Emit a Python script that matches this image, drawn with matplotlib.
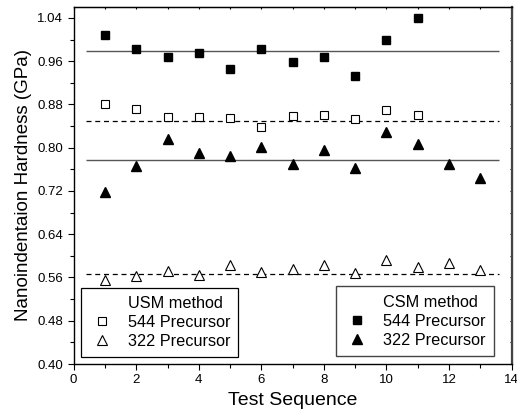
import numpy as np
import matplotlib.pyplot as plt
from matplotlib.lines import Line2D

plt.rcParams['font.family'] = ['Liberation Sans', 'DejaVu Sans']

# Dados
seq_544 = np.arange(1, 12)
seq_322 = np.arange(1, 14)

csm_544 = [1.009, 0.983, 0.967, 0.975, 0.946, 0.983, 0.959, 0.968, 0.933, 1.000, 1.040]
usm_544 = [0.881, 0.871, 0.856, 0.856, 0.855, 0.838, 0.859, 0.861, 0.853, 0.870, 0.861]
csm_322 = [0.719, 0.767, 0.817, 0.790, 0.785, 0.801, 0.769, 0.795, 0.763, 0.829, 0.806, 0.770, 0.744]
usm_322 = [0.555, 0.562, 0.572, 0.564, 0.584, 0.571, 0.576, 0.584, 0.568, 0.592, 0.579, 0.587, 0.574]

# Médias (linhas horizontais)
media_csm = [0.978, 0.778]
media_usm = [0.849, 0.567]

fig = plt.figure(figsize=(5.17, 4.2), dpi=100)
ax = fig.add_axes([0.1425, 0.1333, 0.847, 0.851])

ax.hlines(media_csm, 0.4, 13.6, colors='#555555', linewidth=1.0)
ax.hlines(media_usm, 0.4, 13.6, colors='black', linewidth=0.9, linestyles=(0, (4, 3)))

ax.plot(seq_544, csm_544, 's', color='black', markersize=5.5)
ax.plot(seq_544, usm_544, 's', mfc='white', mec='black', mew=0.8, markersize=5.5)
ax.plot(seq_322, csm_322, '^', color='black', markersize=7)
ax.plot(seq_322, usm_322, '^', mfc='white', mec='black', mew=0.8, markersize=7)

ax.set_xlim(0, 14)
ax.set_ylim(0.40, 1.061)
ax.set_xticks(np.arange(0, 15, 2))
ax.set_xticks(np.arange(0, 15, 1), minor=True)
ax.set_yticks(np.arange(0.40, 1.05, 0.08))
ax.set_yticks(np.arange(0.40, 1.05, 0.04), minor=True)
ax.set_yticklabels([f'{v:.2f}' for v in np.arange(0.40, 1.05, 0.08)])
ax.tick_params(which='major', direction='out', length=4, width=0.8, labelsize=9.5)
ax.tick_params(which='minor', direction='out', length=3, width=0.8)
ax.tick_params(which='both', top=False, right=False)

# ticks pequenos em cima e à direita
sec_x = ax.secondary_xaxis('top')
sec_x.set_xticks(np.arange(0, 15, 1))
sec_x.tick_params(direction='in', length=1.5, labeltop=False)
sec_y = ax.secondary_yaxis('right')
sec_y.set_yticks(np.arange(0.40, 1.05, 0.04))
sec_y.tick_params(direction='in', length=1.5, labelright=False)

for s in ax.spines.values():
    s.set_linewidth(1.0)
ax.spines['right'].set_color('#444444')
ax.spines['right'].set_linewidth(1.6)

ax.set_xlabel('Test Sequence', fontsize=14)
ax.set_ylabel('Nanoindentaion Hardness (GPa)', fontsize=13.5)

vazio = Line2D([], [], ls='', marker='')
h_usm = [vazio,
         Line2D([], [], ls='', marker='s', mfc='white', mec='black', mew=0.8, markersize=6),
         Line2D([], [], ls='', marker='^', mfc='white', mec='black', mew=0.8, markersize=7)]
h_csm = [vazio,
         Line2D([], [], ls='', marker='s', color='black', markersize=6),
         Line2D([], [], ls='', marker='^', color='black', markersize=7)]
rotulos = ['544 Precursor', '322 Precursor']

opts = dict(borderaxespad=0, fontsize=11.7, fancybox=False, framealpha=1,
            handletextpad=0.8, labelspacing=0.25, borderpad=0.5, handlelength=1.6)
leg1 = ax.legend(h_usm, ['USM method'] + rotulos, loc='lower left',
                 bbox_to_anchor=(0.016, 0.019), edgecolor='black', **opts)
leg1.get_frame().set_linewidth(0.9)
ax.add_artist(leg1)
leg2 = ax.legend(h_csm, ['CSM method'] + rotulos, loc='lower right',
                 bbox_to_anchor=(0.960, 0.023), edgecolor='#444444', **opts)
leg2.get_frame().set_linewidth(1.0)

plt.savefig('out.png', dpi=100)
